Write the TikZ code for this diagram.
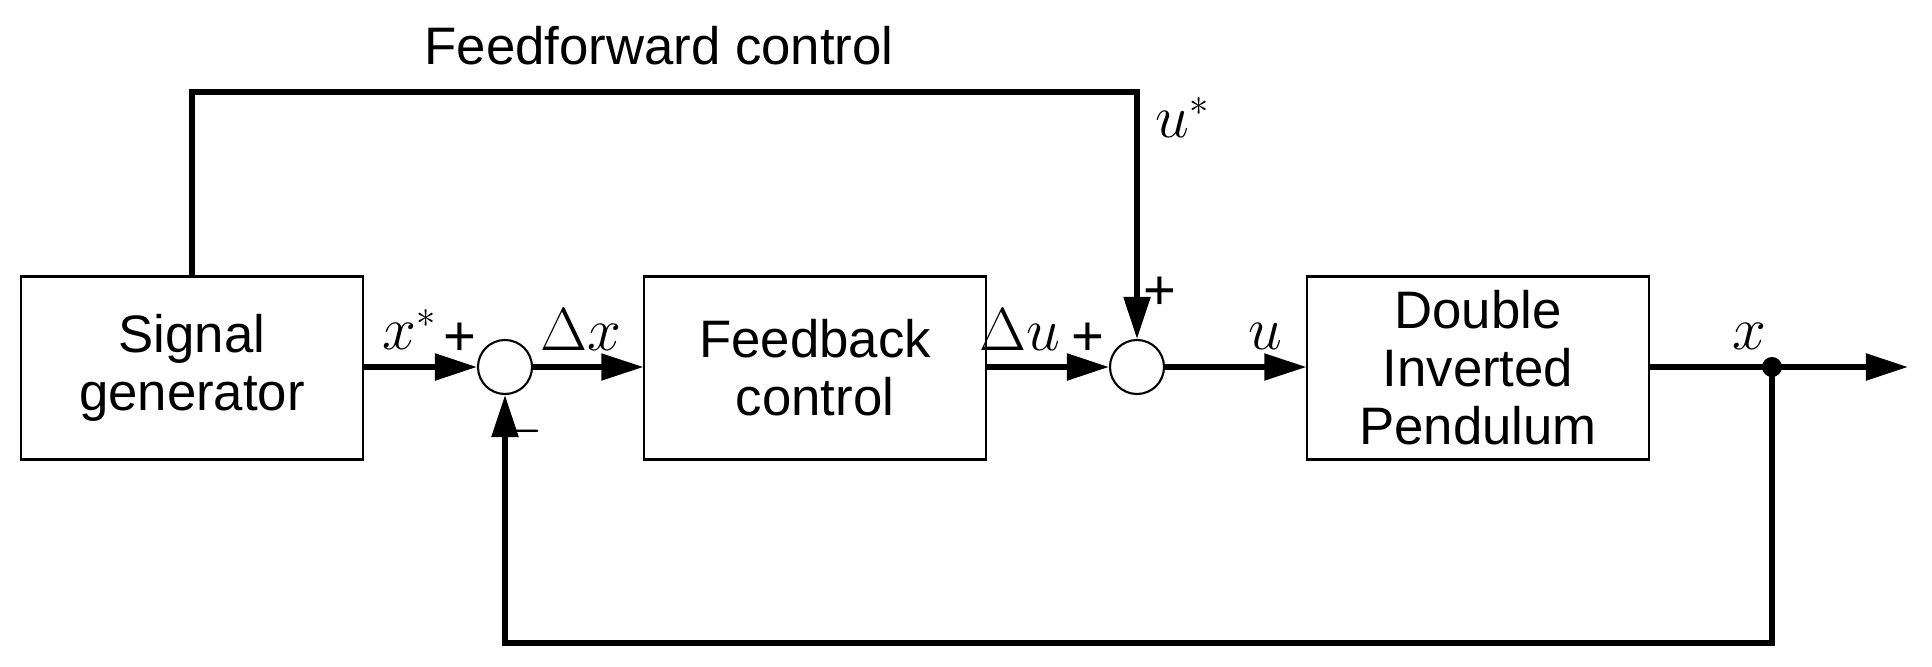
\documentclass[tikz,border=0pt]{standalone}
\usepackage{fontspec}
\setmainfont{Liberation Sans}
\usepackage{amsmath}
\usetikzlibrary{arrows.meta}
\begin{document}
\begin{tikzpicture}[x=0.01cm,y=-0.01cm,
    block/.style={draw,line width=0.6pt,minimum width=3.41cm,minimum height=1.83cm,inner sep=1pt,align=center,font=\fontsize{15}{16.5}\selectfont},
    sumnode/.style={draw,circle,line width=0.6pt,minimum size=0.54cm,inner sep=0pt},
    arr/.style={draw,line width=1.5pt,-{Triangle[length=0.42cm,width=0.26cm]}},
    wire/.style={draw,line width=1.5pt},
    lbl/.style={font=\fontsize{16}{18}\selectfont}]
    \useasboundingbox (0,0) rectangle (1932,667);
    \node[block] (sig) at (192,368) {Signal\\generator};
    \node[sumnode] (sone) at (505,367) {};
    \node[block] (fb) at (815,368) {Feedback\\control};
    \node[sumnode] (stwo) at (1137,367) {};
    \node[block] (dip) at (1478,368) {Double\\Inverted\\Pendulum};
    \coordinate (junc) at (1772,367);
    \coordinate (out) at (1908,367);
    \coordinate (top) at (192,92);

    \draw[arr] (sig.east |- sone) -- (sone);
    \draw[arr] (sone) -- (fb.west |- sone);
    \draw[arr] (fb.east |- stwo) -- (stwo);
    \draw[arr] (stwo) -- (dip.west |- stwo);
    \draw[arr] (dip.east |- junc) -- (out);
    \fill (junc) circle (0.1cm);
    \draw[arr] (junc) -- (junc |- 0,643) -| (sone);
    \draw[arr] (sig.north) -- (top) -| (stwo);

    \node[font=\fontsize{15}{18}\selectfont] (fflbl) at (659,46) {Feedforward control};
    \node[lbl] at (1183,118) {$u^{*}$};
    \node[lbl] at (1160,293) {+};
    \node[lbl] at (410,330) {$x^{*}$};
    \node[lbl] at (460,339) {+};
    \node[lbl] at (520,431) {$-$};
    \node[lbl] at (581,330) {$\Delta x$};
    \node[lbl] at (1020,330) {$\Delta u$};
    \node[lbl] at (1088,339) {+};
    \node[lbl] at (1265,336) {$u$};
    \node[lbl] at (1749,336) {$x$};
\end{tikzpicture}
\end{document}
